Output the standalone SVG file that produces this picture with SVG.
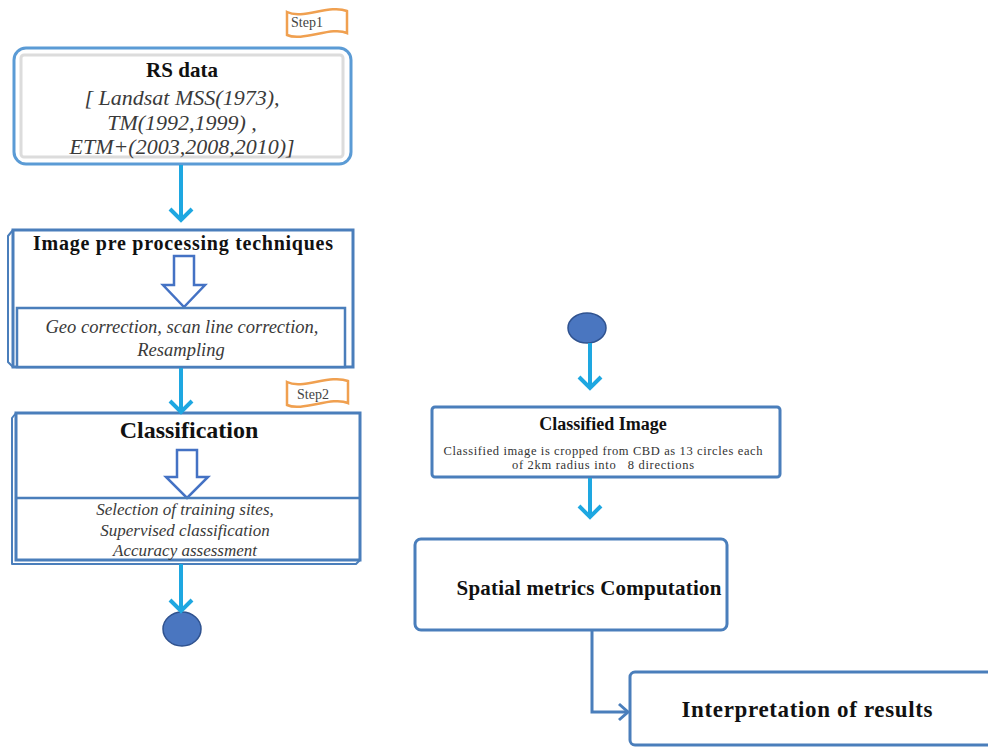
<svg xmlns="http://www.w3.org/2000/svg" width="988" height="747" viewBox="0 0 988 747">
<style>
  text { font-family: "Liberation Serif", "Times New Roman", serif; }
  .box { fill: #ffffff; stroke: #4a7ebb; stroke-width: 3; }
  .face { fill: #ffffff; stroke: #4a7ebb; stroke-width: 2; stroke-linejoin: round; }
  .title { font-weight: bold; fill: #111111; text-anchor: middle; }
  .ital { font-style: italic; fill: #3a3a3a; text-anchor: middle; }
  .plain { fill: #333333; text-anchor: middle; }
  .hollow { fill: #ffffff; stroke: #4472c4; stroke-width: 2.5; stroke-linejoin: miter; }
  .flag { fill: #ffffff; stroke: #f0a050; stroke-width: 2.5; }
  .steptxt { fill: #444444; font-size: 14px; }
  .lb { fill: none; stroke: #1ea7e1; stroke-width: 4; marker-end: url(#chevLB); }
  .db { fill: none; stroke: #4a7ebb; stroke-width: 3; marker-end: url(#chevDB); }
  .dot { fill: #4a76c0; stroke: #2f528f; stroke-width: 1.5; }
</style>
<defs>
  <marker id="chevLB" markerUnits="userSpaceOnUse" markerWidth="18" markerHeight="30" viewBox="-4 -15 18 30" refX="10" refY="0" orient="auto">
    <path d="M0,-11 L11,0 L0,11" fill="none" stroke="#1ea7e1" stroke-width="4"/>
  </marker>
  <marker id="chevDB" markerUnits="userSpaceOnUse" markerWidth="16" markerHeight="24" viewBox="-4 -12 16 24" refX="9" refY="0" orient="auto">
    <path d="M0,-8 L9,0 L0,8" fill="none" stroke="#4a7ebb" stroke-width="3"/>
  </marker>
</defs>

<g id="step1">
  <path class="flag" d="M287,12 C302,20 330,4 347,11 V33 C332,26 302,42 287,35 Z"/>
  <text class="steptxt" x="291" y="27">Step1</text>
</g>

<g id="rs-data">
  <rect x="14" y="48" width="337" height="116" rx="12" fill="#ffffff" stroke="#5b9bd5" stroke-width="3"/>
  <rect x="21" y="55" width="322" height="102" rx="3" fill="#ffffff" stroke="#dcdcdc" stroke-width="3"/>
  <text class="title" x="182" y="77" font-size="21">RS data</text>
  <text class="ital" x="182" y="105" font-size="22">[ Landsat MSS(1973),</text>
  <text class="ital" x="182" y="130" font-size="22">TM(1992,1999) ,</text>
  <text class="ital" x="182" y="154" font-size="22">ETM+(2003,2008,2010)]</text>
</g>

<g id="preprocessing">
  <polygon class="face" points="13,230 8,236 8,362 13,367"/>
  <rect class="box" x="13" y="230" width="340" height="137"/>
  <text class="title" x="183" y="250" font-size="20" textLength="300" lengthAdjust="spacing">Image pre processing techniques</text>
  <path class="hollow" d="M174,256 H194 V285 H205 L184,307 L163,285 H174 Z"/>
  <rect x="17" y="308" width="328" height="59" fill="#ffffff" stroke="#4a7ebb" stroke-width="2.5"/>
  <text class="ital" x="182" y="333" font-size="18.5">Geo correction, scan line correction,</text>
  <text class="ital" x="181" y="356" font-size="18.5">Resampling</text>
</g>

<g id="step2">
  <path class="flag" d="M287,382 C302,390 330,374 348,381 V403 C332,396 302,412 287,405 Z"/>
  <text class="steptxt" x="297" y="399">Step2</text>
</g>

<g id="classification">
  <polygon class="face" points="16,413 12,418 12,564 356,564 360,560 16,560"/>
  <rect class="box" x="16" y="413" width="344" height="147"/>
  <text class="title" x="189" y="438" font-size="24">Classification</text>
  <path class="hollow" d="M177,450 H197 V477 H208 L187,498 L166,477 H177 Z"/>
  <line x1="16" y1="498" x2="360" y2="498" stroke="#4a7ebb" stroke-width="2.5"/>
  <text class="ital" x="185" y="515" font-size="17">Selection of training sites,</text>
  <text class="ital" x="185" y="536" font-size="17">Supervised classification</text>
  <text class="ital" x="185" y="556" font-size="17">Accuracy assessment</text>
</g>

<g id="end-left">
  <ellipse class="dot" cx="182" cy="629" rx="19" ry="17"/>
</g>

<g id="start-right">
  <ellipse class="dot" cx="587" cy="328" rx="19" ry="15"/>
</g>

<g id="classified-image">
  <rect class="box" x="432" y="407" width="348" height="70" rx="3"/>
  <text class="title" x="603" y="430" font-size="18">Classified Image</text>
  <text class="plain" x="603" y="455" font-size="12.5" textLength="319" lengthAdjust="spacing">Classified image is cropped from CBD as 13 circles each</text>
  <text class="plain" x="603" y="469" font-size="12.5" xml:space="preserve" textLength="182" lengthAdjust="spacing">of 2km radius into   8 directions</text>
</g>

<g id="spatial-metrics">
  <rect class="box" x="415" y="539" width="312" height="91" rx="6"/>
  <text class="title" x="589" y="595" font-size="21" textLength="265" lengthAdjust="spacing">Spatial metrics Computation</text>
</g>

<g id="interpretation">
  <rect class="box" x="630" y="672" width="370" height="73" rx="5"/>
  <text class="title" x="807" y="717" font-size="23" textLength="251" lengthAdjust="spacing">Interpretation of results</text>
</g>

<g id="connectors">
  <path class="lb" d="M181,165 V219"/>
  <path class="lb" d="M181,368 V411"/>
  <path class="lb" d="M181,564 V610"/>
  <path class="lb" d="M590,343 V387"/>
  <path class="lb" d="M590,478 V516"/>
  <path class="db" d="M592,631 V712 H628"/>
</g>
</svg>
